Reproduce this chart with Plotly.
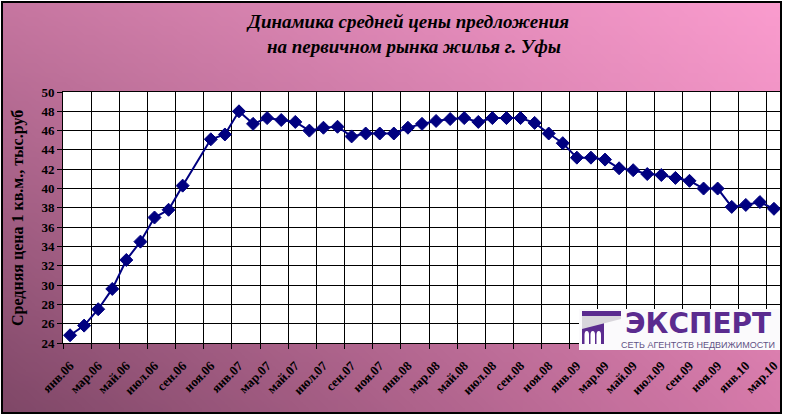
import base64
import struct
import zlib
import plotly.graph_objects as go

# ---------------- data ----------------
month_names = ["янв", "фев", "мар", "апр", "май", "июн",
               "июл", "авг", "сен", "окт", "ноя", "дек"]
years = ["06", "07", "08", "09", "10"]
months = [f"{m}.{y}" for y in years for m in month_names][:51]  # янв.06 .. мар.10

price = [24.8, 25.8, 27.5, 29.6, 32.6, 34.5, 37.0, 37.8, 40.3, None,
         45.1, 45.6, 48.0, 46.7, 47.3, 47.1, 46.9, 46.0, 46.3, 46.4,
         45.4, 45.7, 45.7, 45.7, 46.3, 46.7, 47.0, 47.2, 47.3, 46.9,
         47.3, 47.3, 47.3, 46.8, 45.7, 44.7, 43.2, 43.2, 43.0, 42.1,
         41.9, 41.5, 41.4, 41.1, 40.8, 40.0, 40.0, 38.1, 38.3, 38.6,
         37.9]

tick_labels = months[::2]
y_ticks = list(range(24, 51, 2))

title_lines = ["Динамика средней цены предложения",
               "на первичном рынка жилья г. Уфы"]
y_title = "Средняя цена 1 кв.м., тыс.руб"
logo_main = "ЭКСПЕРТ"
logo_sub = "СЕТЬ АГЕНТСТВ НЕДВИЖИМОСТИ"

# ---------------- geometry helpers ----------------
W, H = 786, 419
ML, MR, MT, MB = 63, 5, 92, 76
PW = W - ML - MR
PH = H - MT - MB


def px(x):
    return (x - ML) / PW


def py(y):
    return (H - MB - y) / PH


# ---------------- gradient background (PNG data uri) ----------------
def lerp(a, b, t):
    return a + (b - a) * t


TL = (198, 118, 160)
TR = (250, 156, 206)
BL = (128, 72, 104)
BR = (214, 122, 170)


def grad(u, v):
    top = [lerp(TL[k], TR[k], u) for k in range(3)]
    bot = [lerp(BL[k], BR[k], u) for k in range(3)]
    return tuple(int(round(lerp(top[k], bot[k], v))) for k in range(3))


def png_uri(w, h, func):
    raw = bytearray()
    for j in range(h):
        raw.append(0)
        for i in range(w):
            raw.extend(func(i / (w - 1), j / (h - 1)))

    def chunk(tag, data):
        c = struct.pack(">I", len(data)) + tag + data
        return c + struct.pack(">I", zlib.crc32(tag + data) & 0xFFFFFFFF)

    png = (b"\x89PNG\r\n\x1a\n"
           + chunk(b"IHDR", struct.pack(">IIBBBBB", w, h, 8, 2, 0, 0, 0))
           + chunk(b"IDAT", zlib.compress(bytes(raw)))
           + chunk(b"IEND", b""))
    return "data:image/png;base64," + base64.b64encode(png).decode()


bg_uri = png_uri(80, 44, grad)

# ---------------- figure ----------------
xs = list(range(len(months)))
navy = "#000080"
serif = "Liberation Serif, Times New Roman, serif"

fig = go.Figure()
fig.add_trace(go.Scatter(
    x=xs, y=price, mode="lines+markers", connectgaps=True,
    line=dict(color=navy, width=2),
    marker=dict(symbol="diamond", size=10, color=navy,
                line=dict(color=navy, width=1)),
    hoverinfo="x+y", showlegend=False,
))

shapes = []
# white plot area
shapes.append(dict(type="rect", xref="paper", yref="paper", x0=0, x1=1, y0=0, y1=1,
                   fillcolor="white", line=dict(width=0), layer="below"))

# logo box
purple = "#5b2b8f"
shapes.append(dict(type="rect", xref="paper", yref="paper",
                   x0=px(579), x1=px(780), y0=py(350), y1=py(309),
                   fillcolor="#fbfafc", line=dict(width=0), layer="above"))
# icon: body, top bar, gray roof
shapes.append(dict(type="rect", xref="paper", yref="paper",
                   x0=px(582), x1=px(604), y0=py(344), y1=py(311),
                   fillcolor=purple, line=dict(width=0), layer="above"))
shapes.append(dict(type="rect", xref="paper", yref="paper",
                   x0=px(582), x1=px(621), y0=py(316), y1=py(311),
                   fillcolor=purple, line=dict(width=0), layer="above"))
roof = [(582, 316), (621, 316), (621, 319), (582, 329)]
path = "M " + " L ".join(f"{px(a)},{py(b)}" for a, b in roof) + " Z"
shapes.append(dict(type="path", xref="paper", yref="paper", path=path,
                   fillcolor="#d9d6dc", line=dict(width=0), layer="above"))
for x0 in (584.5, 590.5, 596.5):
    x1 = x0 + 4.5
    xc = (x0 + x1) / 2
    p = (f"M {px(x0)},{py(344)} L {px(x0)},{py(335)} "
         f"Q {px(x0)},{py(331)} {px(xc)},{py(331)} "
         f"Q {px(x1)},{py(331)} {px(x1)},{py(335)} L {px(x1)},{py(344)} Z")
    shapes.append(dict(type="path", xref="paper", yref="paper", path=p,
                       fillcolor="white", line=dict(width=0), layer="above"))

# outer frame
shapes.append(dict(type="rect", xref="paper", yref="paper",
                   x0=px(2), x1=px(781), y0=py(413), y1=py(2),
                   fillcolor="rgba(0,0,0,0)", line=dict(color="black", width=2),
                   layer="above"))

annotations = [
    dict(text=f"<b><i>{title_lines[0]}</i></b>", xref="paper", yref="paper",
         x=px(407), y=py(21), showarrow=False, xanchor="center", yanchor="middle",
         font=dict(family=serif, size=19, color="black")),
    dict(text=f"<b><i>{title_lines[1]}</i></b>", xref="paper", yref="paper",
         x=px(414), y=py(47), showarrow=False, xanchor="center", yanchor="middle",
         font=dict(family=serif, size=19, color="black")),
    dict(text=f"<b>{y_title}</b>", xref="paper", yref="paper",
         x=px(18), y=py(218), showarrow=False, textangle=-90,
         xanchor="center", yanchor="middle",
         font=dict(family=serif, size=16, color="black")),
    dict(text=f"<b>{logo_main}</b>", xref="paper", yref="paper",
         x=px(698), y=py(323), showarrow=False, xanchor="center", yanchor="middle",
         font=dict(family="DejaVu Sans, sans-serif", size=28, color=purple)),
    dict(text=logo_sub, xref="paper", yref="paper",
         x=px(698), y=py(345), showarrow=False, xanchor="center", yanchor="middle",
         font=dict(family="Liberation Sans, Arial, sans-serif", size=9, color="#5f5285")),
]

fig.update_layout(
    width=W, height=H,
    margin=dict(l=ML, r=MR, t=MT, b=MB, pad=0),
    paper_bgcolor="white",
    plot_bgcolor="white",
    showlegend=False,
    shapes=shapes,
    annotations=annotations,
    images=[dict(source=bg_uri, xref="paper", yref="paper",
                 x=px(2), y=py(2), sizex=(781 - 2) / PW, sizey=(413 - 2) / PH,
                 xanchor="left", yanchor="top", sizing="stretch", layer="below")],
    xaxis=dict(
        range=[-0.5, len(months) - 0.5],
        tickvals=xs[::2], ticktext=tick_labels, tickangle=-45,
        ticks="", showgrid=False, zeroline=False, ticklabelstandoff=9,
        tickfont=dict(family=serif, size=13, color="black", weight="bold"),
        showline=True, linecolor="black", linewidth=1, mirror=True,
        minor=dict(tickvals=[v - 0.5 for v in xs[::2]], showgrid=True,
                   gridcolor="black", gridwidth=1, ticks="outside",
                   ticklen=5, tickcolor="black"),
    ),
    yaxis=dict(
        range=[24, 50], tickvals=y_ticks, ticks="outside", ticklen=5,
        tickcolor="black", showgrid=True, gridcolor="black", gridwidth=1,
        zeroline=False, showline=True, linecolor="black", linewidth=1, mirror=True,
        tickfont=dict(family=serif, size=13, color="black", weight="bold"),
    ),
)

fig.write_html(
    "out.html",
    config={"displayModeBar": False},
    post_script="document.body.style.margin='0px';document.body.style.padding='0px';"
                "document.documentElement.style.overflow='hidden';",
)
